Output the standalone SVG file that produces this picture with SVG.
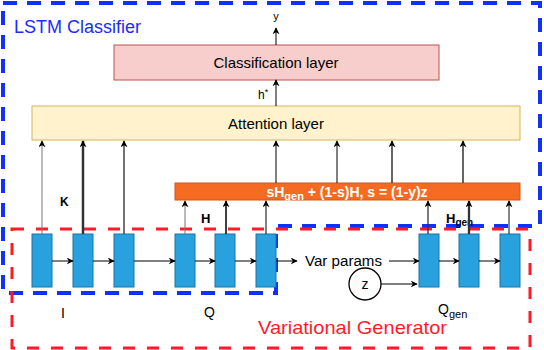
<svg xmlns="http://www.w3.org/2000/svg" width="544" height="350" viewBox="0 0 544 350">
<style>
text{font-family:"Liberation Sans",Arial,sans-serif;fill:#000}
.cell{fill:#29a1df;stroke:#1b74a6;stroke-width:1}
.c{stroke:#000;stroke-width:1;fill:none}
.b{font-weight:bold}
</style>
<defs>
<marker id="ah" viewBox="0 0 10 10" refX="9" refY="5" markerWidth="7" markerHeight="7" markerUnits="userSpaceOnUse" orient="auto">
<path d="M0,0 L10,5 L0,10 L3,5 Z" fill="#000"/>
</marker>
</defs>
<rect width="544" height="350" fill="#fff"/>

<g id="lstm-classifier-group">
<path d="M3,3 H540 V226 H276 V293 H3 Z" fill="none" stroke="#1030ff" stroke-width="4" stroke-dasharray="14,10"/>
<text x="14" y="33" font-size="18" style="fill:#1a2cff">LSTM Classifier</text>
</g>
<g id="variational-generator-group">
<rect x="12" y="229" width="518" height="119" fill="none" stroke="#ff1a2a" stroke-width="3" stroke-dasharray="12,12"/>
<text x="258" y="334" font-size="19" textLength="189" lengthAdjust="spacingAndGlyphs" style="fill:#ff1a2a">Variational Generator</text>
</g>

<g id="classification">
<rect x="114" y="45" width="325" height="35" fill="#f8cecc" stroke="#b85450"/>
<text x="276" y="68" font-size="15" text-anchor="middle">Classification layer</text>
</g>
<g id="attention">
<rect x="32" y="106" width="488" height="34" fill="#fff2cc" stroke="#d6b656"/>
<text x="276" y="129" font-size="15" text-anchor="middle">Attention layer</text>
</g>
<g id="mix">
<rect x="175" y="183" width="345" height="17" fill="#f46b21" stroke="#d4541a"/>
<text x="347" y="197" font-size="14" font-weight="bold" text-anchor="middle" style="fill:#fff">sH<tspan font-size="11" dy="3">gen</tspan><tspan dy="-3"> + (1-s)H, s = (1-y)z</tspan></text>
</g>

<g id="cell-I1"><rect class="cell" x="32" y="234" width="20" height="53"/></g>
<g id="cell-I2"><rect class="cell" x="73" y="234" width="20" height="53"/></g>
<g id="cell-I3"><rect class="cell" x="114" y="234" width="20" height="53"/></g>
<g id="cell-Q1"><rect class="cell" x="175" y="234" width="20" height="53"/></g>
<g id="cell-Q2"><rect class="cell" x="215" y="234" width="20" height="53"/></g>
<g id="cell-Q3"><rect class="cell" x="256" y="234" width="20" height="53"/></g>
<g id="cell-G1"><rect class="cell" x="419" y="234" width="20" height="53"/></g>
<g id="cell-G2"><rect class="cell" x="459" y="234" width="20" height="53"/></g>
<g id="cell-G3"><rect class="cell" x="500" y="234" width="20" height="53"/></g>

<g id="z-node">
<circle cx="365" cy="284" r="16" fill="#fff" stroke="#000" stroke-width="1.3"/>
<text x="365" y="289" font-size="14" text-anchor="middle">z</text>
</g>
<g id="var-params"><text x="305" y="266" font-size="14" textLength="77" lengthAdjust="spacingAndGlyphs">Var params</text></g>

<g id="labels">
<text x="276" y="20" font-size="11" text-anchor="middle">y</text>
<text x="258" y="99" font-size="12">h<tspan font-size="9" dy="-4">*</tspan></text>
<text x="60" y="206" font-size="12" class="b">K</text>
<text x="201" y="223" font-size="13" class="b">H</text>
<text x="446" y="223" font-size="13" class="b">H<tspan font-size="10" dy="3">gen</tspan></text>
<text x="61" y="318" font-size="14">I</text>
<text x="204" y="317" font-size="14">Q</text>
<text x="438" y="314" font-size="14">Q<tspan font-size="11" dy="4">gen</tspan></text>
</g>

<g id="connectors" fill="none">
<line x1="276" y1="45" x2="276" y2="28" class="c" marker-end="url(#ah)"/>
<line x1="276" y1="106" x2="276" y2="80" class="c" marker-end="url(#ah)"/>
<line x1="42" y1="234" x2="42" y2="141" stroke="#777" stroke-width="1" marker-end="url(#ah)"/>
<line x1="83" y1="234" x2="83" y2="141" stroke="#333" stroke-width="2.5" marker-end="url(#ah)"/>
<line x1="124" y1="234" x2="124" y2="141" stroke="#444" stroke-width="1.5" marker-end="url(#ah)"/>
<line x1="185" y1="234" x2="185" y2="201" stroke="#777" stroke-width="1" marker-end="url(#ah)"/>
<line x1="226" y1="234" x2="226" y2="201" stroke="#000" stroke-width="1.5" marker-end="url(#ah)"/>
<line x1="266" y1="234" x2="266" y2="201" stroke="#000" stroke-width="1" marker-end="url(#ah)"/>
<line x1="428" y1="234" x2="428" y2="201" stroke="#333" stroke-width="1.3" marker-end="url(#ah)"/>
<line x1="469" y1="234" x2="469" y2="201" stroke="#333" stroke-width="2.3" marker-end="url(#ah)"/>
<line x1="509" y1="234" x2="509" y2="201" stroke="#333" stroke-width="1.2" marker-end="url(#ah)"/>
<line x1="276" y1="183" x2="276" y2="141" stroke="#000" stroke-width="1" marker-end="url(#ah)"/>
<line x1="337" y1="183" x2="337" y2="141" stroke="#000" stroke-width="1" marker-end="url(#ah)"/>
<line x1="392" y1="183" x2="392" y2="141" stroke="#333" stroke-width="1.5" marker-end="url(#ah)"/>
<line x1="463" y1="183" x2="463" y2="141" stroke="#333" stroke-width="1.5" marker-end="url(#ah)"/>
<line x1="52" y1="261" x2="73" y2="261" class="c" marker-end="url(#ah)"/>
<line x1="93" y1="261" x2="114" y2="261" class="c" marker-end="url(#ah)"/>
<line x1="134" y1="261" x2="175" y2="261" class="c" marker-end="url(#ah)"/>
<line x1="195" y1="261" x2="215" y2="261" class="c" marker-end="url(#ah)"/>
<line x1="235" y1="261" x2="256" y2="261" class="c" marker-end="url(#ah)"/>
<line x1="276" y1="261" x2="297" y2="261" class="c" marker-end="url(#ah)"/>
<line x1="389" y1="261" x2="419" y2="261" class="c" marker-end="url(#ah)"/>
<line x1="439" y1="261" x2="459" y2="261" class="c" marker-end="url(#ah)"/>
<line x1="479" y1="261" x2="500" y2="261" class="c" marker-end="url(#ah)"/>
<line x1="381" y1="284" x2="417" y2="284" class="c" marker-end="url(#ah)"/>
</g>
</svg>
